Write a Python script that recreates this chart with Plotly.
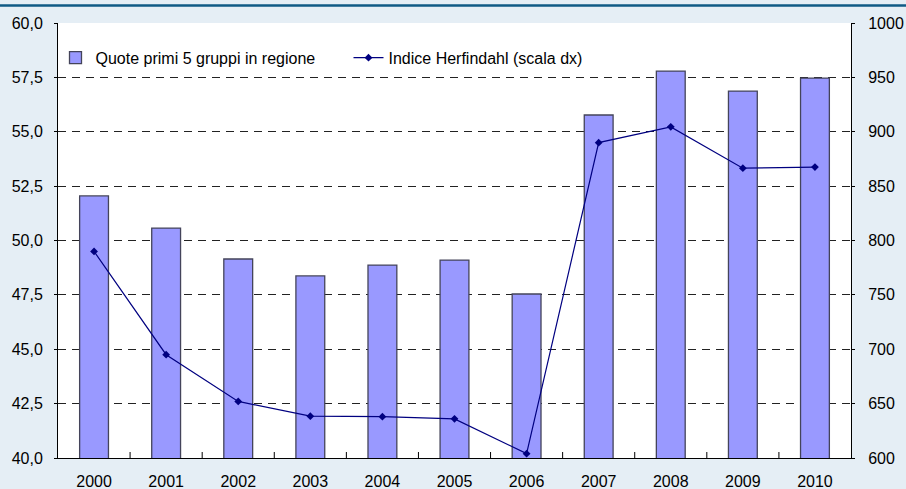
import plotly.graph_objects as go

years = ["2000", "2001", "2002", "2003", "2004", "2005", "2006", "2007", "2008", "2009", "2010"]
quote = [52.05, 50.57, 49.15, 48.37, 48.87, 49.1, 47.54, 55.77, 57.79, 56.87, 57.47]
herfindahl = [790, 695, 652, 638.5, 638, 636, 604, 890, 904.5, 866.5, 867.5]

left_ticks = [40, 42.5, 45, 47.5, 50, 52.5, 55, 57.5, 60]
right_ticks = [600, 650, 700, 750, 800, 850, 900, 950, 1000]

W, H = 906, 489
L, R, T, B = 58, 55, 23, 31
pw = W - L - R
ph = H - T - B
BG = "#e5eef5"

fig = go.Figure()
fig.add_trace(go.Bar(
    x=years, y=quote, name="Quote primi 5 gruppi in regione",
    marker=dict(color="#9999ff", line=dict(color="#44445a", width=1.3)),
    width=0.4, yaxis="y", legend="legend",
))
fig.add_trace(go.Scatter(
    x=years, y=herfindahl, name="Indice Herfindahl (scala dx)",
    mode="lines+markers", yaxis="y2", legend="legend2",
    line=dict(color="#000080", width=1.2),
    marker=dict(symbol="diamond", size=6, color="#000080"),
))

font = dict(family="Liberation Sans", size=16, color="#000000")
leg_common = dict(
    orientation="h", y=0.92, xanchor="left", yanchor="middle",
    bgcolor="rgba(0,0,0,0)", font=dict(size=16), itemwidth=30,
)

fig.update_layout(
    width=W, height=H,
    margin=dict(l=L, r=R, t=T, b=B, autoexpand=False),
    paper_bgcolor=BG,
    plot_bgcolor="#ffffff",
    separators=",.",
    font=font,
    showlegend=True,
    legend=dict(x=(55.5 - L) / pw, **leg_common),
    legend2=dict(x=(348.5 - L) / pw, **leg_common),
    xaxis=dict(
        type="category", range=[-0.5, len(years) - 0.5],
        showgrid=False, showline=True, linecolor="#000000", linewidth=1,
        ticks="", tickfont=dict(size=16), ticklabelstandoff=9,
    ),
    yaxis=dict(
        range=[40, 60], tickvals=left_ticks, tickformat=".1f",
        showgrid=True, gridcolor="#222222", griddash="8px,6px", gridwidth=1,
        showline=True, linecolor="#000000", linewidth=1,
        ticks="outside", ticklen=3, tickcolor="#000000", zeroline=False,
        tickfont=dict(size=16), ticklabelstandoff=8,
    ),
    yaxis2=dict(
        range=[600, 1000], tickvals=right_ticks, overlaying="y", side="right",
        showgrid=False, showline=True, linecolor="#000000", linewidth=1,
        ticks="outside", ticklen=3, tickcolor="#000000", zeroline=False,
        tickfont=dict(size=16), ticklabelstandoff=10,
    ),
    shapes=[
        dict(type="line", xref="paper", yref="paper",
             x0=-L / pw, x1=(W - L) / pw,
             y0=(H - B - 5.5) / ph, y1=(H - B - 5.5) / ph,
             line=dict(color="#0f5a85", width=2.5)),
    ] + [
        dict(type="line", xref="x", yref="paper",
             x0=i - 0.5, x1=i - 0.5, y0=0, y1=6 / ph,
             line=dict(color="#000000", width=1))
        for i in range(1, len(years))
    ],
)

fig.write_html(
    "out.html",
    config={"displayModeBar": False},
    post_script="document.body.style.margin='0';document.body.style.background='" + BG + "';",
)
